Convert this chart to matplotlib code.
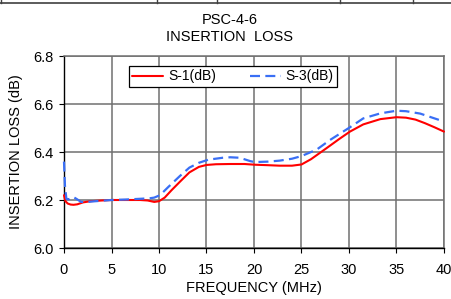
import matplotlib
matplotlib.use("Agg")
import matplotlib.pyplot as plt
from matplotlib.lines import Line2D

plt.rcParams['font.family'] = ['Liberation Sans', 'DejaVu Sans']

title_lines = ["PSC-4-6", "INSERTION  LOSS"]
x_label = "FREQUENCY (MHz)"
y_label = "INSERTION LOSS (dB)"
series_names = ["S-1(dB)", "S-3(dB)"]
x_ticks = [0, 5, 10, 15, 20, 25, 30, 35, 40]
y_ticks = [6.0, 6.2, 6.4, 6.6, 6.8]

freq_s1 = [0.0, 0.15, 0.4, 0.7, 1.0, 1.4, 2.0, 2.8, 4.0, 5.0, 6.5, 8.0, 8.8, 9.5, 10.0, 10.6,
           11.3, 12.2, 13.2, 14.2, 15.0, 16.0, 17.5, 19.0, 20.1, 21.5, 22.7, 24.0, 25.0,
           26.0, 27.6, 29.0, 30.1, 31.5, 33.3, 35.0, 36.0, 37.0, 38.0, 39.0, 40.0]
s1 = [6.22, 6.195, 6.185, 6.181, 6.180, 6.182, 6.190, 6.195, 6.198, 6.200, 6.200, 6.200, 6.198,
      6.192, 6.195, 6.210, 6.240, 6.276, 6.315, 6.338, 6.346, 6.349, 6.350, 6.350, 6.347,
      6.345, 6.343, 6.343, 6.348, 6.370, 6.415, 6.455, 6.485, 6.515, 6.537, 6.545, 6.543,
      6.535, 6.520, 6.503, 6.485]

freq_s3 = [0.0, 0.1, 0.25, 0.5, 0.8, 1.0, 1.3, 1.8, 2.5, 3.0, 4.0, 5.0, 6.5, 8.0, 9.0, 9.5,
           10.1, 11.0, 12.2, 13.2, 14.2, 15.2, 16.7, 17.5, 18.5, 19.6, 20.1, 21.5, 22.7,
           24.0, 25.0, 26.6, 28.0, 30.1, 31.5, 33.3, 35.0, 36.0, 37.5, 39.0, 40.0]
s3 = [6.36, 6.26, 6.205, 6.203, 6.210, 6.212, 6.205, 6.192, 6.192, 6.194, 6.197, 6.200, 6.202,
      6.205, 6.207, 6.210, 6.220, 6.255, 6.300, 6.335, 6.355, 6.368, 6.376, 6.378, 6.376,
      6.362, 6.358, 6.360, 6.364, 6.372, 6.383, 6.410, 6.450, 6.503, 6.540, 6.561, 6.572,
      6.570, 6.560, 6.540, 6.527]

W, H = 451, 299
fig = plt.figure(figsize=(W / 100, H / 100), dpi=100)
L, R, T, B = 64, 444, 56, 248
ax = fig.add_axes([L / W, 1 - B / H, (R - L) / W, (B - T) / H])

ax.plot(freq_s1, s1, color='#ff0000', lw=1.5, label=series_names[0],
        solid_capstyle='round', zorder=3, clip_on=False)
ax.plot(freq_s3, s3, color='#3a6ff5', lw=1.6, ls=(0, (4.5, 2.4)), label=series_names[1],
        zorder=4, clip_on=False)

ax.set_xlim(0, 40)
ax.set_ylim(6.0, 6.8)
ax.set_xticks(x_ticks)
ax.set_yticks(y_ticks)
ax.set_yticklabels([f"{v:.1f}" for v in y_ticks])
ax.grid(True, color='#707070', lw=1.1)
ax.set_axisbelow(True)
for s in ['top', 'right']:
    ax.spines[s].set_color('#707070')
    ax.spines[s].set_linewidth(1.1)
for s in ['left', 'bottom']:
    ax.spines[s].set_color('black')
    ax.spines[s].set_linewidth(1.0)
ax.tick_params(axis='both', labelsize=10.5, length=3.5, width=0.8, direction='out')
ax.tick_params(axis='x', pad=7)
ax.tick_params(axis='y', pad=4)

ax.set_xlabel(x_label, fontsize=10.5, labelpad=3)
ax.set_ylabel(y_label, fontsize=10.5, labelpad=7)

leg = ax.legend(loc='upper left', ncol=2, mode='expand',
                bbox_to_anchor=(0.171, 0.833, 0.547, 0.115), borderaxespad=0,
                fontsize=10, handlelength=2.2, handletextpad=0.35, columnspacing=1.4,
                fancybox=False, framealpha=1, edgecolor='black', borderpad=0.25)
leg.get_frame().set_linewidth(0.9)
leg.set_zorder(5)

fig.text(230 / W, 1 - 20 / H, title_lines[0], ha='center', va='center', fontsize=10.5)
fig.text(230 / W, 1 - 37 / H, title_lines[1], ha='center', va='center', fontsize=10.5)

# remnant of the frame above the chart
fig.add_artist(Line2D([0, 1], [1 - 3 / H, 1 - 3 / H], transform=fig.transFigure, color='#404040', lw=1.2))
for px in [1, 157, 217, 340, 413]:
    fig.add_artist(Line2D([px / W, px / W], [1, 1 - 3 / H], transform=fig.transFigure, color='#404040', lw=1.0))

fig.savefig("out.png", dpi=100)
